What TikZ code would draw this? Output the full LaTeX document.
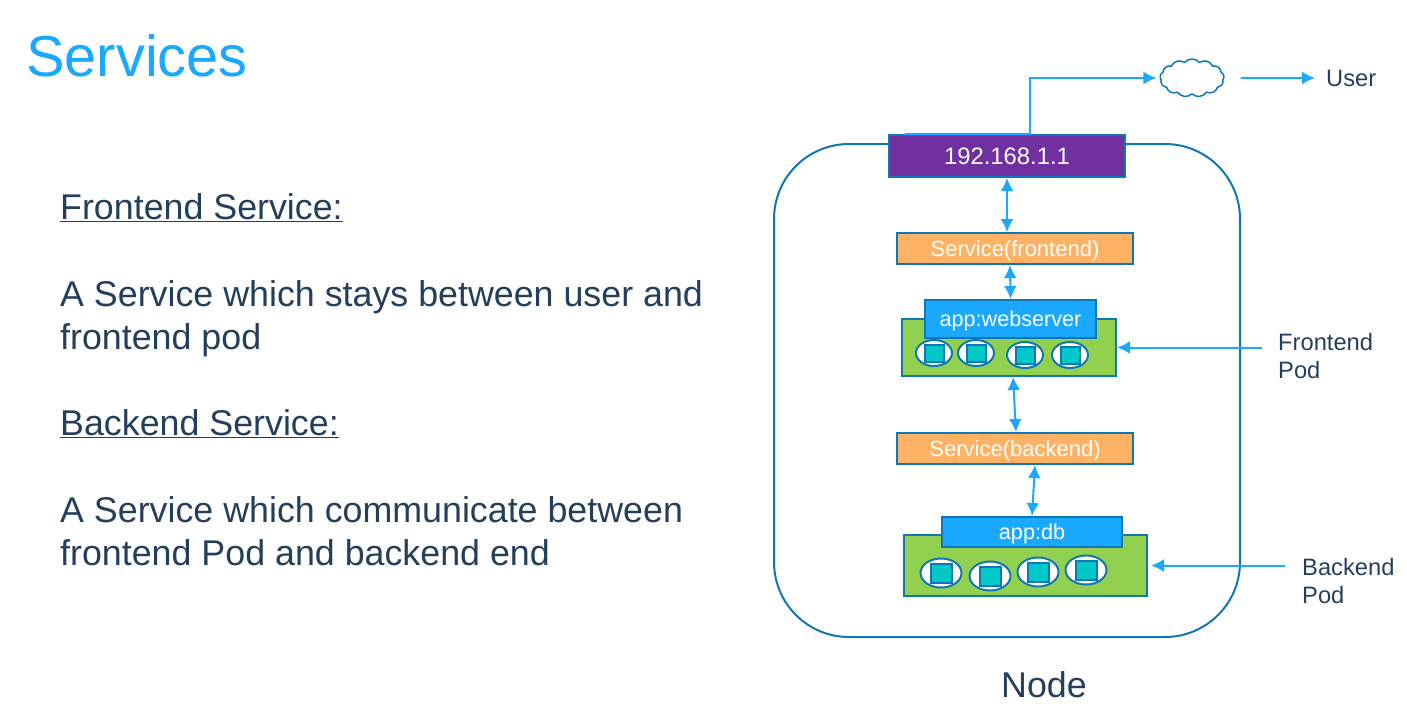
\documentclass[tikz,border=0pt]{standalone}
\usepackage{fontspec}
\setmainfont{Liberation Sans}
\usetikzlibrary{calc}
\usetikzlibrary{arrows.meta}
\usetikzlibrary{shapes.symbols,shapes.geometric}
\definecolor{skyline}{HTML}{1AA9FF}
\definecolor{edgeblue}{HTML}{0F78B4}
\definecolor{slatetext}{HTML}{243F5C}
\definecolor{svcorange}{HTML}{FFB264}
\definecolor{podgreen}{HTML}{92D050}
\definecolor{ipviolet}{HTML}{7030A0}
\definecolor{boxteal}{HTML}{00C8C8}
\tikzset{
    box/.style={draw=edgeblue, line width=2pt, inner sep=0pt, text=white, text depth=0pt},
    svcbox/.style={box, fill=svcorange, minimum width=236, minimum height=31,
        font=\fontsize{22}{22}\selectfont},
    labelbox/.style={box, fill=skyline, minimum height=34,
        font=\fontsize{21.6}{22}\selectfont},
    podbox/.style={box, fill=podgreen},
    link/.style={skyline, line width=2pt, >={Latex[length=13pt,width=13pt]}},
    sidetext/.style={text=slatetext, align=left, inner sep=0pt,
        font=\fontsize{23.7}{28}\selectfont}
}
\begin{document}
\begin{tikzpicture}[x=1pt,y=-1pt]
    \useasboundingbox (0, 0) rectangle (1407, 726);

    \node[anchor=west, inner sep=0pt, text=skyline, font=\fontsize{57.8}{58}\selectfont]
        (title) at (26, 56) {Services};
    \node[anchor=north west, inner sep=0pt, text=slatetext, align=left,
        font=\fontsize{35.8}{43.2}\selectfont] (notes) at (60, 193.5)
        {\underline{Frontend Service:}\\[43.2pt]
         A Service which stays between user and\\frontend pod\\[43.2pt]
         \underline{Backend Service:}\\[43.2pt]
         A Service which communicate between\\frontend Pod and backend end};

    \node[draw=edgeblue, line width=2pt, rounded corners=75, inner sep=0pt,
        minimum width=466, minimum height=493] (node) at (1007, 390.5) {};
    \node[text=slatetext, font=\fontsize{35.8}{36}\selectfont] (nodename) at (1044, 685) {Node};

    \node[box, fill=ipviolet, minimum width=236, minimum height=42,
        font=\fontsize{23.8}{24}\selectfont] (ip) at (1007, 156) {192.168.1.1};
    \node[svcbox] (svcfront) at (1015, 248.5) {Service(frontend)};
    \node[podbox, minimum width=214, minimum height=57] (podfront) at (1009, 347.5) {};
    \node[labelbox, minimum width=171, minimum height=38] (appweb) at (1010.5, 319) {app:webserver};
    \node[svcbox] (svcback) at (1015, 448.5) {Service(backend)};
    \node[podbox, minimum width=243, minimum height=61] (podback) at (1025.5, 565.5) {};
    \node[labelbox, minimum width=180, minimum height=30] (appdb) at (1032, 532) {app:db};

    % pods
    \foreach \n/\x/\y in {a/934/353, b/976/353, c/1025/355, d/1070/355} {
        \node[ellipse, draw=edgeblue, line width=2pt, fill=white, inner sep=0pt,
            minimum width=36, minimum height=26] (front\n) at (\x, \y) {};
        \node[draw=edgeblue, line width=2pt, fill=boxteal, inner sep=0pt,
            minimum width=19, minimum height=17] (frontsq\n) at (\x, \y) {};
    }
    \foreach \n/\x/\y in {a/941/573, b/990/576, c/1038/572, d/1086/570} {
        \node[ellipse, draw=edgeblue, line width=2pt, fill=white, inner sep=0pt,
            minimum width=41, minimum height=29] (back\n) at (\x, \y) {};
        \node[draw=edgeblue, line width=2pt, fill=boxteal, inner sep=0pt,
            minimum width=21, minimum height=19] (backsq\n) at (\x, \y) {};
    }

    \node[cloud, cloud puffs=13, cloud puff arc=100, aspect=1.7, draw=edgeblue, line width=1.5pt,
        inner sep=0pt, minimum width=64, minimum height=38] (cloud) at (1192, 78) {};
    \node[sidetext, anchor=west] (user) at (1326, 78) {User};
    \node[sidetext, anchor=west] (frontlabel) at (1278, 356) {Frontend\\Pod};
    \node[sidetext, anchor=west] (backlabel) at (1302, 581) {Backend\\Pod};

    \draw[link, ->] ([xshift=-102]ip.north) -- ([xshift=23]ip.north) |- ([xshift=-3]cloud.west);
    \draw[link, ->] ([xshift=16]cloud.east) -- ([xshift=-11]user.west);
    \draw[link, <->] (ip.south) -- ([xshift=-8]svcfront.north);
    \draw[link, <->] ([xshift=-5]svcfront.south) -- (appweb.north);
    \draw[link, <->] ([xshift=4]podfront.south) -- ([xshift=1]svcback.north);
    \draw[link, <->] ([xshift=20]svcback.south) -- (appdb.north);
    \draw[link, ->] ([xshift=-16, yshift=8.5]frontlabel.west) -- (podfront.east);
    \draw[link, ->] ([xshift=-17, yshift=15.5]backlabel.west) -- ([xshift=3]podback.east);
\end{tikzpicture}
\end{document}
